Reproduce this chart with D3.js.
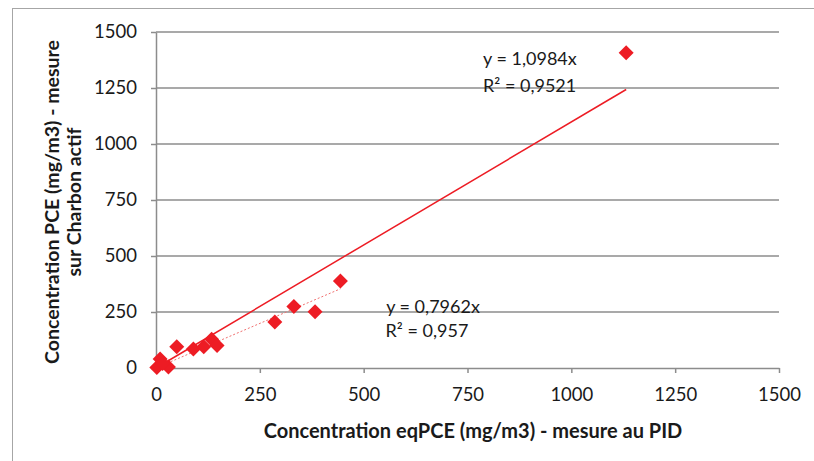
<!DOCTYPE html>
<html>
<head>
<meta charset="utf-8">
<script src="https://cdn.jsdelivr.net/npm/d3@7"></script>
<style>
  html, body { margin: 0; padding: 0; background: #fff; }
  svg { display: block; }
  text { font-family: Lato, "Open Sans", sans-serif; fill: #1a1a1a; }
</style>
</head>
<body>
<svg id="chart" width="814" height="461"></svg>
<script>
// ---- data ----
const xValues = [2, 10, 30, 16, 50, 90, 115, 134, 147, 286, 332, 383, 444, 1132];
const yValues = [2, 40, 5, 20, 95, 85, 95, 128, 100, 205, 274, 251, 388, 1407];
const xTicks = [0, 250, 500, 750, 1000, 1250, 1500];
const yTicks = [0, 250, 500, 750, 1000, 1250, 1500];
const slopeAll = 1.0984;      // trend on all points
const slopeSub = 0.7962;      // trend without the outlier
const labelAll = ["y = 1,0984x", "R² = 0,9521"];
const labelSub = ["y = 0,7962x", "R² = 0,957"];
const xTitle = "Concentration eqPCE (mg/m3) - mesure au PID";
const yTitle = ["Concentration PCE (mg/m3) - mesure", "sur Charbon actif"];

const svg = d3.select("#chart");
const red = "#ED1C24";
const gray = "#8c8c8c";

// outer frame
svg.append("rect").attr("x", 12.5).attr("y", 8.5).attr("width", 820).attr("height", 470)
  .attr("fill", "none").attr("stroke", "#a6a6a6").attr("stroke-width", 1);

const x = d3.scaleLinear().domain([0, 1500]).range([156, 779]);
const y = d3.scaleLinear().domain([0, 1500]).range([368, 32]);

// gridlines
svg.append("g").selectAll("line").data(yTicks.filter(d => d > 0)).join("line")
  .attr("x1", x(0)).attr("x2", x(1500))
  .attr("y1", d => y(d)).attr("y2", d => y(d))
  .attr("stroke", gray).attr("stroke-width", 1.5);

// axes
const fmt = d => String(d);
const xAxis = svg.append("g").attr("transform", `translate(0,${y(0)})`)
  .call(d3.axisBottom(x).tickValues(xTicks).tickFormat(fmt).tickSize(5).tickPadding(15).tickSizeOuter(0));
const yAxis = svg.append("g").attr("transform", `translate(${x(0)},0)`)
  .call(d3.axisLeft(y).tickValues(yTicks).tickFormat(fmt).tickSize(5).tickPadding(14).tickSizeOuter(0));
[xAxis, yAxis].forEach(a => {
  a.select(".domain").attr("stroke", gray).attr("stroke-width", 1.5);
  a.selectAll(".tick line").attr("stroke", gray).attr("stroke-width", 1.5);
  a.selectAll(".tick text").attr("font-size", 18.5).attr("font-family", "Lato, sans-serif").attr("fill", "#1a1a1a");
});

// trendlines
const maxAll = d3.max(xValues);
const subX = xValues.filter(v => v < 1000);
const maxSub = d3.max(subX);
svg.append("line")
  .attr("x1", x(0)).attr("y1", y(0)).attr("x2", x(maxAll)).attr("y2", y(slopeAll * maxAll))
  .attr("stroke", red).attr("stroke-width", 1.5);
svg.append("line")
  .attr("x1", x(0)).attr("y1", y(0)).attr("x2", x(maxSub)).attr("y2", y(slopeSub * maxSub))
  .attr("stroke", "#f07070").attr("stroke-width", 1).attr("stroke-dasharray", "2,2");

// points
const pts = xValues.map((v, i) => [v, yValues[i]]);
svg.append("g").selectAll("path").data(pts).join("path")
  .attr("d", d => { const cx = x(d[0]), cy = y(d[1]), r = 7.5;
    return `M${cx},${cy - r}L${cx + r},${cy}L${cx},${cy + r}L${cx - r},${cy}Z`; })
  .attr("fill", red);

// trend labels
const lab = (tx, ty, anchor, s) => svg.append("text").attr("x", tx).attr("y", ty)
  .attr("font-size", 18).attr("text-anchor", anchor).text(s);
lab(483, 65, "start", labelAll[0]);
lab(483, 92, "start", labelAll[1]);
lab(433, 313, "middle", labelSub[0]);
lab(427, 337, "middle", labelSub[1]);

// axis titles
svg.append("text").attr("x", 473).attr("y", 438).attr("text-anchor", "middle")
  .attr("font-weight", "bold").attr("font-size", 20).text(xTitle);
const yt = svg.append("text").attr("transform", "translate(0,202) rotate(-90)")
  .attr("text-anchor", "middle").attr("font-weight", "bold").attr("font-size", 19.5);
yt.append("tspan").attr("x", 0).attr("y", 59).text(yTitle[0]);
yt.append("tspan").attr("x", 0).attr("y", 81).text(yTitle[1]);
</script>
</body>
</html>
